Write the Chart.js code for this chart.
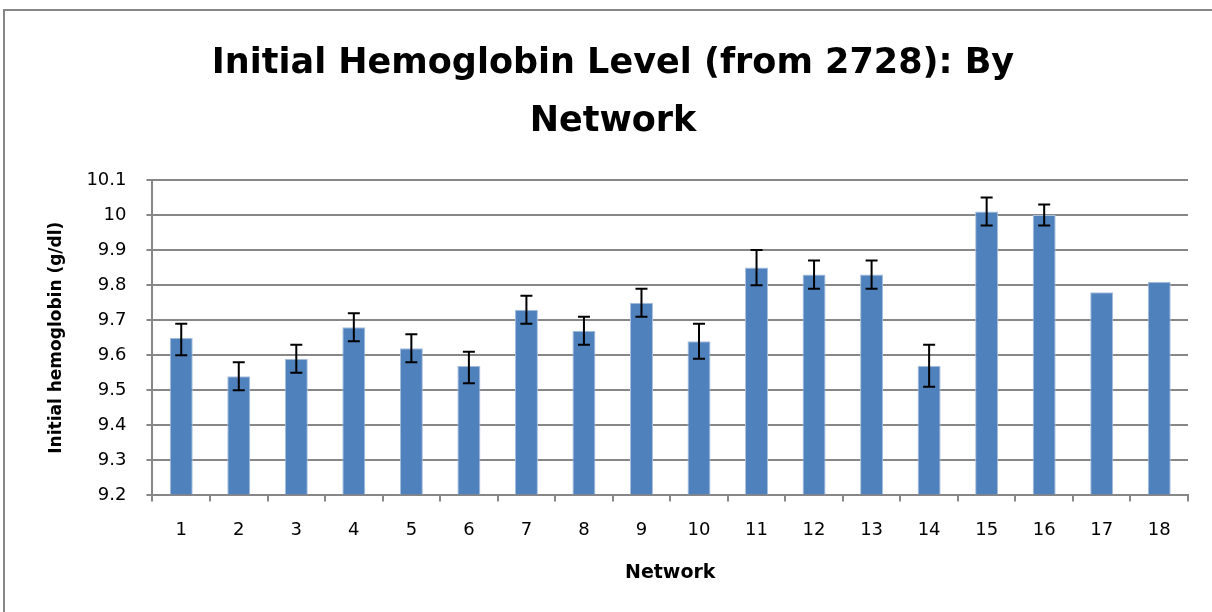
<!DOCTYPE html>
<html>
<head>
<meta charset="utf-8">
<script src="https://cdn.jsdelivr.net/npm/chart.js@4/dist/chart.umd.min.js"></script>
<style>
  html, body { margin: 0; padding: 0; background: #ffffff; }
  #c { display: block; }
</style>
</head>
<body>
<canvas id="c" width="1212" height="612"></canvas>
<script>
const networks = ['1','2','3','4','5','6','7','8','9','10','11','12','13','14','15','16','17','18'];
const hemoglobin = [9.65, 9.54, 9.59, 9.68, 9.62, 9.57, 9.73, 9.67, 9.75, 9.64, 9.85, 9.83, 9.83, 9.57, 10.01, 10.0, 9.78, 9.81];
const errorPlus  = [0.04, 0.04, 0.04, 0.04, 0.04, 0.04, 0.04, 0.04, 0.04, 0.05, 0.05, 0.04, 0.04, 0.06, 0.04, 0.03, null, null];
const errorMinus = [0.05, 0.04, 0.04, 0.04, 0.04, 0.05, 0.04, 0.04, 0.04, 0.05, 0.05, 0.04, 0.04, 0.06, 0.04, 0.03, null, null];
const titleLines = ['Initial Hemoglobin Level (from 2728): By', 'Network'];
const yAxisTitle = 'Initial hemoglobin (g/dl)';
const xAxisTitle = 'Network';

const FONT = "'DejaVu Sans', sans-serif";

const frame = {
  id: 'frame',
  beforeDraw(chart) {
    const ctx = chart.ctx;
    ctx.save();
    ctx.fillStyle = '#ffffff';
    ctx.fillRect(0, 0, chart.width, chart.height);
    ctx.strokeStyle = '#878787';
    ctx.lineWidth = 2;
    ctx.beginPath();
    ctx.moveTo(4, chart.height);
    ctx.lineTo(4, 10);
    ctx.lineTo(chart.width, 10);
    ctx.stroke();
    ctx.restore();
  }
};

const errorBars = {
  id: 'errorBars',
  afterDatasetsDraw(chart) {
    const ctx = chart.ctx;
    const y = chart.scales.y;
    const meta = chart.getDatasetMeta(0);
    ctx.save();
    ctx.strokeStyle = '#000000';
    ctx.lineWidth = 2;
    meta.data.forEach((bar, i) => {
      if (errorPlus[i] == null) return;
      const v = hemoglobin[i];
      const yTop = y.getPixelForValue(v + errorPlus[i]);
      const yBot = y.getPixelForValue(v - errorMinus[i]);
      const x = bar.x;
      const cap = 6;
      ctx.beginPath();
      ctx.moveTo(x, yTop); ctx.lineTo(x, yBot);
      ctx.moveTo(x - cap, yTop); ctx.lineTo(x + cap, yTop);
      ctx.moveTo(x - cap, yBot); ctx.lineTo(x + cap, yBot);
      ctx.stroke();
    });
    ctx.restore();
  }
};

new Chart(document.getElementById('c'), {
  type: 'bar',
  data: {
    labels: networks,
    datasets: [{
      data: hemoglobin,
      backgroundColor: '#4F81BD',
      borderColor: '#A9C0DD',
      borderWidth: 1,
      barPercentage: 0.4,
      categoryPercentage: 1.0,
      base: 9.2
    }]
  },
  options: {
    responsive: false,
    animation: false,
    devicePixelRatio: 1,
    layout: { padding: { left: 38, right: 24, top: 0, bottom: 29 } },
    plugins: {
      legend: { display: false },
      tooltip: { enabled: false },
      title: {
        display: true,
        text: titleLines,
        color: '#000000',
        font: { family: FONT, size: 35, weight: 'bold', lineHeight: '58px' },
        padding: { top: 35, bottom: 29 }
      }
    },
    scales: {
      x: {
        grid: {
          display: true,
          offset: true,
          drawOnChartArea: false,
          drawTicks: true,
          tickLength: 6,
          color: '#878787',
          lineWidth: 2
        },
        border: { display: true, color: '#878787', width: 2 },
        ticks: {
          color: '#000000',
          font: { family: FONT, size: 18 },
          padding: 18,
          maxRotation: 0
        },
        title: {
          display: true,
          text: xAxisTitle,
          color: '#000000',
          font: { family: FONT, size: 19, weight: 'bold', lineHeight: 1.0 },
          padding: { top: 5, bottom: 0 }
        }
      },
      y: {
        min: 9.2,
        max: 10.1,
        grid: {
          color: '#878787',
          lineWidth: 2,
          drawTicks: true,
          tickLength: 6
        },
        border: { display: true, color: '#878787', width: 2 },
        ticks: {
          stepSize: 0.1,
          color: '#000000',
          font: { family: FONT, size: 18 },
          padding: 20,
          callback: (v) => String(Number(v.toFixed(1)))
        },
        title: {
          display: true,
          text: yAxisTitle,
          color: '#000000',
          font: { family: FONT, size: 17, weight: 'bold' },
          padding: { top: 8, bottom: 0 }
        }
      }
    }
  },
  plugins: [frame, errorBars]
});
</script>
</body>
</html>
